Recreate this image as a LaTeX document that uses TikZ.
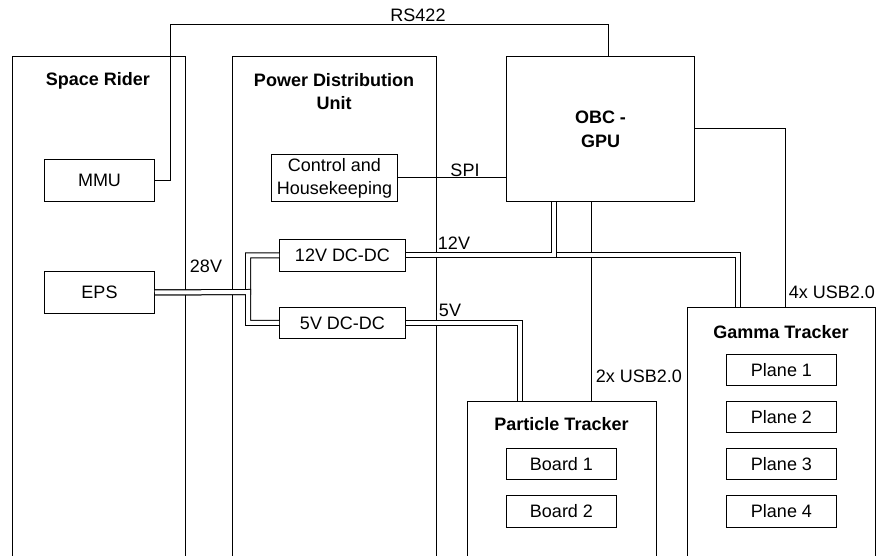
\documentclass[tikz,border=0pt]{standalone}
\usepackage{fontspec}
\setmainfont{Liberation Sans}
\begin{document}
\begin{tikzpicture}[x=1pt,y=-1pt,
  every node/.style={font=\fontsize{18}{23}\selectfont},
  box/.style={draw, line width=1pt, inner sep=0pt, anchor=north west, align=center},
  title/.style={font=\fontsize{18}{23}\selectfont\bfseries, inner sep=0pt, anchor=north, align=center},
  lbl/.style={inner sep=0pt},
  wire/.style={line width=1pt},
  power/.style={double, double distance=4pt, line width=1pt}]
\useasboundingbox (0,0) rectangle (879,556);
\clip (0,0) rectangle (879,556);

% containers
\node[box, minimum width=173pt, minimum height=520pt] (sr) at (12,56) {};
\node[box, minimum width=204pt, minimum height=520pt] (pdu) at (232,56) {};
\node[box, minimum width=188pt, minimum height=145pt, font=\fontsize{18}{24}\selectfont\bfseries] (obc) at (506,56) {OBC -\\GPU};
\node[box, minimum width=189pt, minimum height=200pt] (pt) at (467,401) {};
\node[box, minimum width=188pt, minimum height=300pt] (gt) at (687,307) {};

% titles
\node[title] (srt) at (98,72) {Space Rider};
\node[title] (pdut) at (334,73) {Power Distribution\\Unit};
\node[title] (ptt) at (561.5,417) {Particle Tracker};
\node[title] (gtt) at (781,325) {Gamma Tracker};

% inner boxes
\node[box, minimum width=110pt, minimum height=42pt] (mmu) at (44,159) {MMU};
\node[box, minimum width=110pt, minimum height=42pt] (eps) at (44,271) {EPS};
\node[box, minimum width=126pt, minimum height=47pt] (ch) at (271,154) {Control and\\Housekeeping};
\node[box, minimum width=126pt, minimum height=32pt] (v12) at (279,239) {12V DC-DC};
\node[box, minimum width=126pt, minimum height=31pt] (v5) at (279,307) {5V DC-DC};
\node[box, minimum width=110pt, minimum height=31pt] (b1) at (506,448) {Board 1};
\node[box, minimum width=110pt, minimum height=32pt] (b2) at (506,495) {Board 2};
\node[box, minimum width=110pt, minimum height=31pt] (p1) at (726,354) {Plane 1};
\node[box, minimum width=110pt, minimum height=31pt] (p2) at (726,401) {Plane 2};
\node[box, minimum width=110pt, minimum height=31pt] (p3) at (726,448) {Plane 3};
\node[box, minimum width=110pt, minimum height=32pt] (p4) at (726,495) {Plane 4};

% labels
\node[lbl] (lrs) at (418,15) {RS422};
\node[lbl] (l28) at (206,266) {28V};
\node[lbl] (l12) at (454,243) {12V};
\node[lbl] (l5) at (450,310) {5V};
\node[lbl] (lspi) at (465,170) {SPI};
\node[lbl] (lu2) at (639,376) {2x USB2.0};
\node[lbl] (lu4) at (832,292) {4x USB2.0};

% helper coordinates
\coordinate (rsx) at (170,25);
\coordinate (usbx) at (591,0);
\coordinate (junc) at (248,292);

% signal wires
\draw[wire] (mmu.east) -| (rsx) -| ([xshift=8pt]obc.north);
\draw[wire] (ch.east) -- (ch.east -| obc.west);
\draw[wire] (obc.east) -| ([xshift=4pt]gt.north);
\draw[wire] (usbx |- obc.south) -- (usbx |- pt.north);

% power links
\draw[power] (eps.east) -- (junc) |- (v12.west);
\draw[power] (eps.east) -- (junc) |- (v5.west);
\draw[power] (v5.east) -| ([xshift=-42.5pt]pt.north);
\draw[power] (v12.east) -| ([xshift=-44pt]gt.north);
\draw[power] (v12.east) -| ([xshift=-47pt]obc.south);
\end{tikzpicture}
\end{document}
